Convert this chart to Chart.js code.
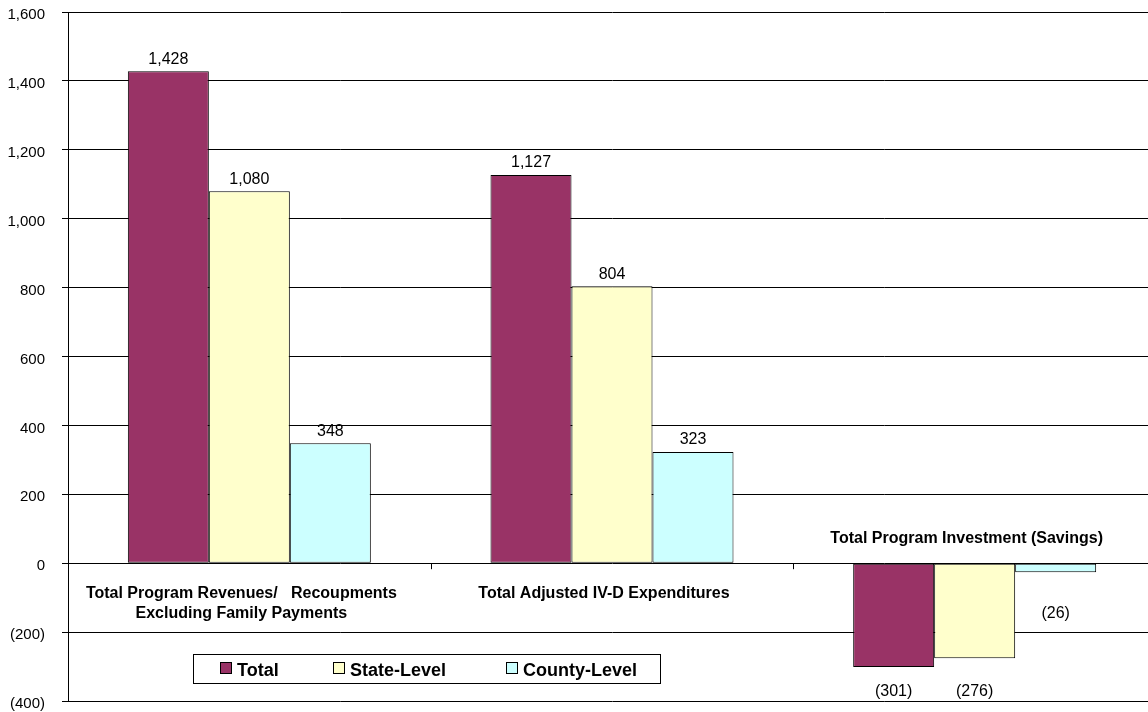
<!DOCTYPE html>
<html>
<head>
<meta charset="utf-8">
<script src="https://cdn.jsdelivr.net/npm/chart.js@4/dist/chart.umd.min.js"></script>
<style>
  html, body { margin: 0; padding: 0; background: #fff; overflow: hidden; }
  #wrap { width: 1148px; height: 712px; overflow: hidden; }
</style>
</head>
<body>
<div id="wrap"><canvas id="chart" width="1156" height="712"></canvas></div>
<script>
const categories = [
  ['Total Program Revenues/   Recoupments', 'Excluding Family Payments'],
  ['Total Adjusted IV-D Expenditures'],
  ['Total Program Investment (Savings)']
];
const seriesNames = ['Total', 'State-Level', 'County-Level'];
const totalValues = [1428, 1127, -301];
const stateValues = [1080, 804, -276];
const countyValues = [348, 323, -26];
const yTicks = [-400, -200, 0, 200, 400, 600, 800, 1000, 1200, 1400, 1600];

const colors = ['#993366', '#FFFFCC', '#CCFFFF'];
const FONT = '"Liberation Sans", Arial, sans-serif';

function fmt(v) {
  const s = Math.abs(v).toLocaleString('en-US');
  return v < 0 ? '(' + s + ')' : s;
}

// value labels on the bars
const valueLabels = {
  id: 'valueLabels',
  afterDatasetsDraw(chart) {
    const ctx = chart.ctx;
    const zero = chart.scales.y.getPixelForValue(0);
    const bottom = chart.chartArea.bottom;
    ctx.save();
    ctx.font = '16px ' + FONT;
    ctx.fillStyle = '#000';
    ctx.textAlign = 'center';
    chart.data.datasets.forEach((ds, i) => {
      const meta = chart.getDatasetMeta(i);
      meta.data.forEach((bar, j) => {
        const v = ds.data[j];
        if (v >= 0) {
          ctx.textBaseline = 'bottom';
          ctx.fillText(fmt(v), bar.x, bar.y - 4);
        } else {
          ctx.textBaseline = 'middle';
          const y = bar.y + 25 > zero + 50 ? bottom - 9 : zero + 50;
          ctx.fillText(fmt(v), bar.x, y);
        }
      });
    });
    ctx.restore();
  }
};

// category labels, boundary ticks and legend box
const extras = {
  id: 'extras',
  afterDraw(chart) {
    const ctx = chart.ctx;
    const x = chart.scales.x;
    const y = chart.scales.y;
    const zero = y.getPixelForValue(0);
    ctx.save();
    // ticks between categories
    ctx.strokeStyle = '#000';
    ctx.lineWidth = 1;
    for (let i = 1; i < categories.length; i++) {
      const px = Math.round((x.getPixelForValue(i - 1) + x.getPixelForValue(i)) / 2) + 0.5;
      ctx.beginPath();
      ctx.moveTo(px, zero);
      ctx.lineTo(px, zero + 6);
      ctx.stroke();
    }
    // category names
    ctx.font = 'bold 16px ' + FONT;
    ctx.fillStyle = '#000';
    ctx.textAlign = 'center';
    ctx.textBaseline = 'middle';
    categories.forEach((lines, i) => {
      const cx = x.getPixelForValue(i) - 8;
      const below = totalValues[i] >= 0;
      lines.forEach((line, k) => {
        const ly = below ? zero + 30 + k * 20 : zero - 25 - (lines.length - 1 - k) * 20;
        ctx.fillText(line, cx, ly);
      });
    });
    // legend
    ctx.fillStyle = '#fff';
    ctx.fillRect(193, 654, 467, 29);
    ctx.strokeStyle = '#000';
    ctx.strokeRect(193.5, 654.5, 467, 29);
    const itemX = [220, 333, 506];
    ctx.font = 'bold 18px ' + FONT;
    ctx.textAlign = 'left';
    chart.data.datasets.forEach((ds, i) => {
      ctx.fillStyle = ds.backgroundColor;
      ctx.fillRect(itemX[i], 662, 11, 11);
      ctx.strokeStyle = '#000';
      ctx.strokeRect(itemX[i] + 0.5, 662.5, 11, 11);
      ctx.fillStyle = '#000';
      ctx.fillText(ds.label, itemX[i] + 17, 671);
    });
    ctx.restore();
  }
};

new Chart(document.getElementById('chart'), {
  type: 'bar',
  data: {
    labels: categories.map(c => c.join(' ')),
    datasets: [
      { label: seriesNames[0], data: totalValues, backgroundColor: colors[0] },
      { label: seriesNames[1], data: stateValues, backgroundColor: colors[1] },
      { label: seriesNames[2], data: countyValues, backgroundColor: colors[2] }
    ].map(d => Object.assign(d, {
      borderColor: '#000',
      borderWidth: 1,
      borderSkipped: false,
      categoryPercentage: 0.67,
      barPercentage: 1.0
    }))
  },
  options: {
    responsive: false,
    animation: false,
    layout: { padding: { top: 12, bottom: 11, left: 0, right: 0 } },
    plugins: {
      legend: { display: false },
      tooltip: { enabled: false }
    },
    scales: {
      x: { display: false },
      y: {
        min: -400,
        max: 1600,
        afterFit(scale) {
          scale.width = 68;
          scale.paddingTop = 0;
          scale.paddingBottom = 0;
        },
        afterBuildTicks(scale) { scale.ticks = yTicks.map(v => ({ value: v })); },
        ticks: {
          color: '#000',
          font: { family: FONT, size: 15 },
          padding: 17,
          labelOffset: 3,
          callback: v => fmt(v)
        },
        grid: { color: '#000', lineWidth: 1, tickLength: 6, drawTicks: true },
        border: { color: '#000', width: 1 }
      }
    }
  },
  plugins: [valueLabels, extras]
});
</script>
</body>
</html>
